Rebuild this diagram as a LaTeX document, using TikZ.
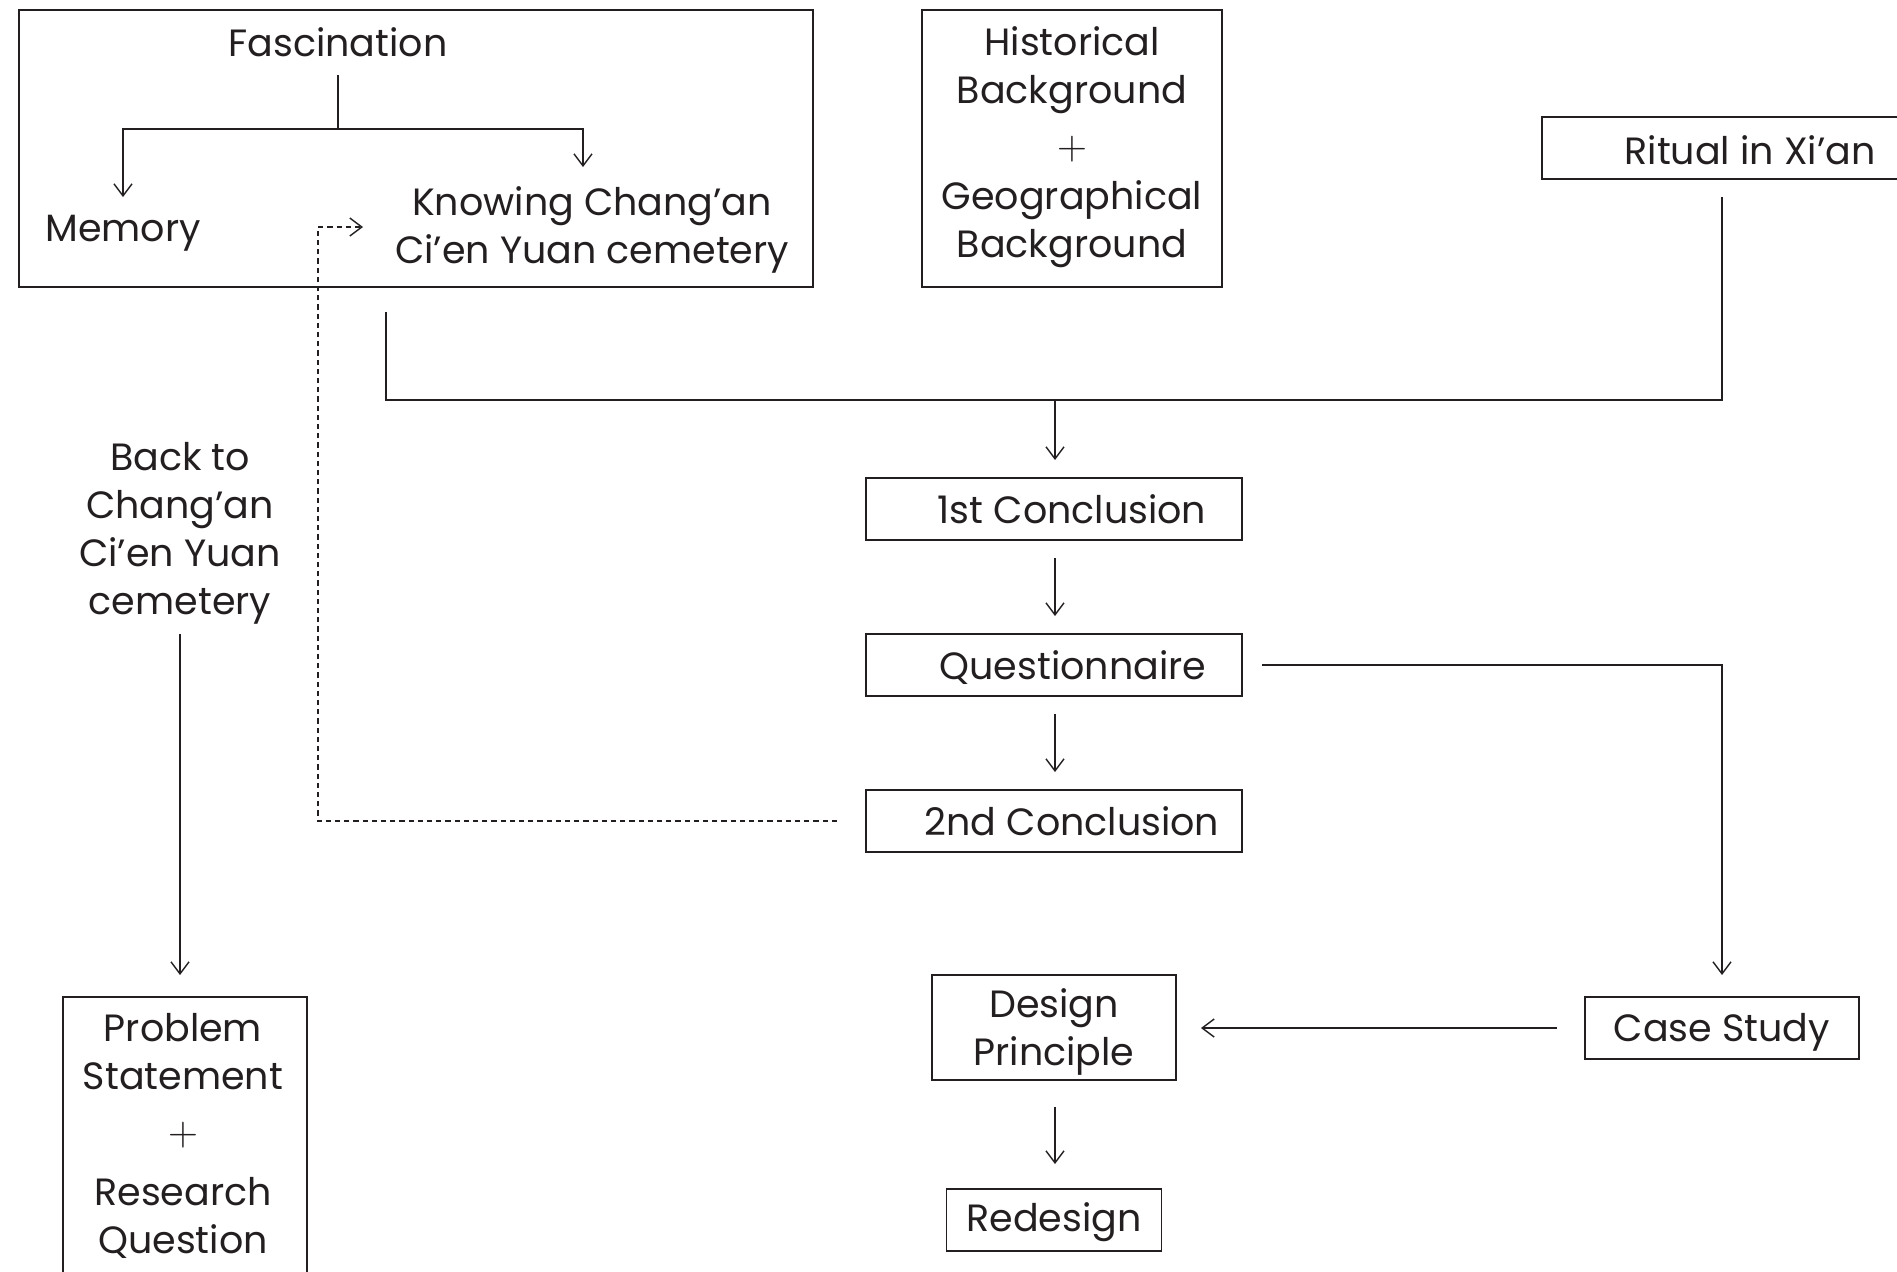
\documentclass[tikz,border=0pt]{standalone}
\usepackage{fontspec}
\setmainfont{Poppins}
\usetikzlibrary{arrows.meta}
\definecolor{ink}{HTML}{231F20}
\begin{document}
\begin{tikzpicture}[x=0.5pt,y=-0.5pt,
  txt/.style={font=\fontsize{19}{24}\selectfont, text=ink, align=center, inner sep=0pt},
  box/.style={draw=ink, line width=0.9pt, inner sep=0pt},
  arr/.style={draw=ink, line width=0.7pt, -{Straight Barb[length=6pt,width=9pt]}},
  plain/.style={draw=ink, line width=0.7pt},
  dsh/.style={draw=ink, line width=0.7pt, dash pattern=on 2.6pt off 2pt, -{Straight Barb[length=6pt,width=9pt]}}
]
\clip (0,0) rectangle (1897,1271);
\fill[white] (0,0) rectangle (1897,1271);

% top-left container
\node[box, minimum width=397pt, minimum height=138.5pt] (fbox) at (416,148.5) {};
\node[txt] (fasc) at (338,42) {Fascination};
\node[txt] (mem) at (123,233) {Memory};
\node[txt] (know) at (592,230) {Knowing Chang’an\\Ci’en Yuan cemetery};

% historical
\node[box, minimum width=150pt, minimum height=138.5pt] (hbox) at (1072,148.5) {};
\node[txt] (hist) at (1072,147) {Historical\\Background\\[4.2pt]{\fontsize{22}{24}\selectfont$+$}\\[0.6pt]Geographical\\Background};

% ritual
\node[box, minimum width=208pt, minimum height=31pt] (rit) at (1750,148) {};
\node[txt] (ritt) at (1750,150.5) {Ritual in Xi’an};

% conclusions
\node[box, minimum width=188pt, minimum height=31pt] (c1) at (1054,509) {};
\node[txt] (c1t) at (1072,509) {1st Conclusion};
\node[box, minimum width=188pt, minimum height=31pt] (q) at (1054,665) {};
\node[txt] (qt) at (1073,667.5) {Questionnaire};
\node[box, minimum width=188pt, minimum height=31pt] (c2) at (1054,821) {};
\node[txt] (c2t) at (1072,821) {2nd Conclusion};

% lower right
\node[box, minimum width=137pt, minimum height=31pt] (case) at (1722,1028) {};
\node[txt] (caset) at (1722,1032) {Case Study};
\node[box, minimum width=122pt, minimum height=52.5pt] (des) at (1054,1027.5) {};
\node[txt] (dest) at (1054,1031.5) {Design\\Principle};
\node[box, minimum width=107.5pt, minimum height=31pt] (red) at (1054,1220) {};
\node[txt] (redt) at (1054,1222.5) {Redesign};

% left column
\node[txt] (back) at (180,533) {Back to\\Chang’an\\Ci’en Yuan\\cemetery};
\node[box, minimum width=122pt, minimum height=160pt] (pbox) at (185,1157) {};
\node[txt] (prob) at (183,1136) {Problem\\Statement\\[4.2pt]{\fontsize{22}{24}\selectfont$+$}\\[6pt]Research\\Question};

% connectors: fascination split
\coordinate (fs) at (338,75);
\coordinate (fj) at (338,129);
\draw[plain] (fs) -- (fj);
\draw[arr] (fj) -- (123,129) -- (123,197);
\draw[arr] (fj) -- (583,129) -- (583,167);

% merge into 1st conclusion
\coordinate (ks) at (386,312);
\coordinate (rs) at (1722,197);
\coordinate (mj) at (1055,400);
\draw[plain] (ks) -- (386,400) -- (1722,400) -- (rs);
\draw[arr] (mj) -- (1055,460);

% column arrows
\draw[arr] (1055,558) -- (1055,616);
\draw[arr] (1055,714) -- (1055,772);

% questionnaire -> case study
\draw[arr] (1262,665) -- (1722,665) -- (1722,975);
% case -> design
\draw[arr] (1557,1028) -- (1201,1028);
% design -> redesign
\draw[arr] (1055,1107) -- (1055,1164);

% back to -> problem
\draw[arr] (180,634) -- (180,975);

% dashed feedback
\coordinate (ds) at (837,821);
\draw[dsh] (ds) -- (318,821) -- (318,227) -- (363,227);
\end{tikzpicture}
\end{document}
